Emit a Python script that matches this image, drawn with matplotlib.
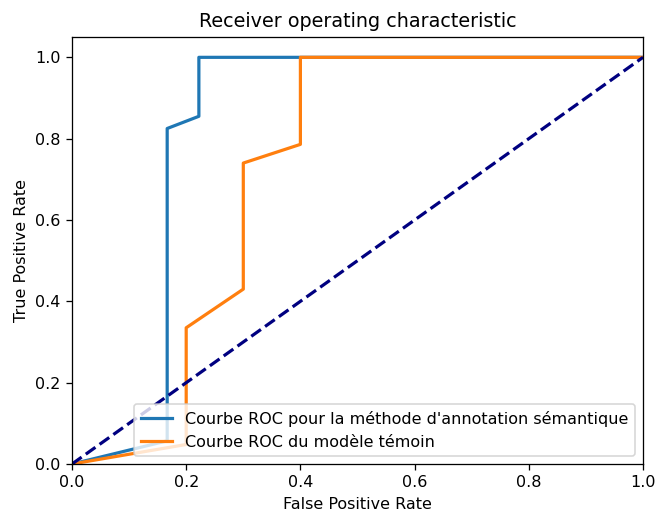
import matplotlib
matplotlib.use('Agg')
import matplotlib.pyplot as plt

# courbes ROC
fpr_sem = [0.0, 0.1667, 0.1667, 0.2222, 0.2222, 1.0]
tpr_sem = [0.0, 0.057, 0.825, 0.855, 1.0, 1.0]

fpr_tem = [0.0, 0.2, 0.2, 0.3, 0.3, 0.4, 0.4, 1.0]
tpr_tem = [0.0, 0.048, 0.335, 0.43, 0.74, 0.786, 1.0, 1.0]

W, H, dpi = 657, 514, 115
lw = 2
fig = plt.figure(figsize=(W / dpi, H / dpi), dpi=dpi)
ax = fig.add_axes([72 / W, (H - 464) / H, 571 / W, 427 / H])
ax.plot(fpr_sem, tpr_sem, color='#1f77b4', lw=lw,
        label="Courbe ROC pour la méthode d'annotation sémantique")
ax.plot(fpr_tem, tpr_tem, color='#ff7f0e', lw=lw,
        label="Courbe ROC du modèle témoin")
ax.plot([0, 1], [0, 1], color='navy', lw=lw, linestyle='--')
ax.set_xlim([0.0, 1.0])
ax.set_ylim([0.0, 1.05])
ax.set_xlabel('False Positive Rate')
ax.set_ylabel('True Positive Rate')
ax.set_title('Receiver operating characteristic')
ax.legend(loc="lower right")
fig.savefig('out.png', dpi=dpi)
